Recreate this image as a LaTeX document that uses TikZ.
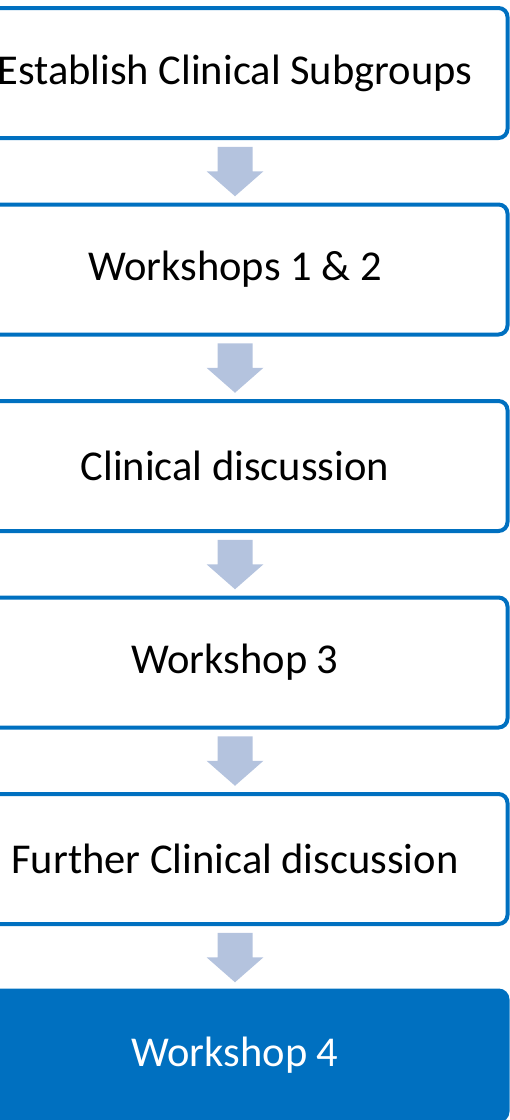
\documentclass[tikz,border=0pt]{standalone}
\usepackage{fontspec}
\setmainfont{Carlito}
\usetikzlibrary{calc}
\definecolor{stepblue}{HTML}{0070C0}
\definecolor{arrowblue}{HTML}{B4C3DE}
\begin{document}
\begin{tikzpicture}[x=1pt,y=1pt,
  stepbox/.style={draw=stepblue, line width=4pt, fill=white, rounded corners=9pt,
    minimum width=545pt, minimum height=130pt, inner sep=0pt,
    font=\fontsize{42.5}{48}\selectfont, text=black},
  lastbox/.style={stepbox, fill=stepblue, text=white},
  flowarrow/.style={fill=arrowblue, draw=none}]
\useasboundingbox (0,0) rectangle (510,-1120);
% the steps, one below the other
\node[stepbox] (s1) at (235,-73) {Establish Clinical Subgroups};
\node[stepbox] (s2) at (235,-269.5) {Workshops 1 \& 2};
\node[stepbox] (s3) at (235,-466) {Clinical discussion};
\node[stepbox] (s4) at (235,-662.5) {Workshop 3};
\node[stepbox] (s5) at (235,-859) {Further Clinical discussion};
\node[lastbox] (s6) at (235,-1055.5) {Workshop 4};
% block arrows between consecutive steps
\foreach \a/\b in {s1/s2,s2/s3,s3/s4,s4/s5,s5/s6}{
  \coordinate (m) at ($(\a.south)!0.5!(\b.north)$);
  \fill[flowarrow] ($(m)+(-17.5,24.5)$) -- ($(m)+(17.5,24.5)$) -- ($(m)+(17.5,0)$)
    -- ($(m)+(28.5,0)$) -- ($(m)+(0,-25)$) -- ($(m)+(-28.5,0)$)
    -- ($(m)+(-17.5,0)$) -- cycle;
}
\end{tikzpicture}
\end{document}
